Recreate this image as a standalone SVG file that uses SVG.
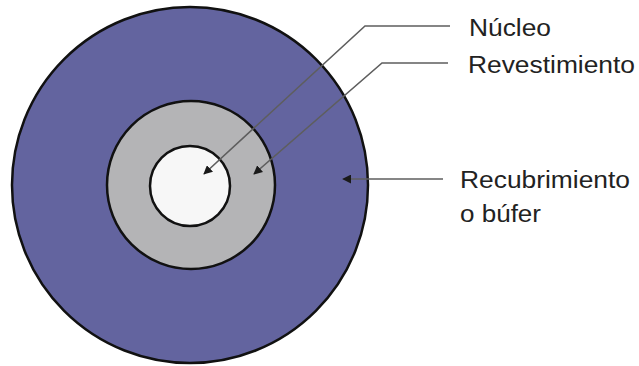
<svg xmlns="http://www.w3.org/2000/svg" width="639" height="366" viewBox="0 0 639 366">
<style>
.ring{stroke:#111;stroke-width:2.5}
.lbl{font-family:"Liberation Sans",Arial,sans-serif;font-size:23px;fill:#222}
.lead{fill:none;stroke:#5e5e5e;stroke-width:1.6;marker-end:url(#ah)}
</style>
<defs>
<marker id="ah" viewBox="0 0 10 10" refX="9" refY="5" markerWidth="9" markerHeight="9" markerUnits="userSpaceOnUse" orient="auto">
<path d="M0,0 L10,5 L0,10 z" fill="#1a1a1a"/>
</marker>
</defs>
<rect width="639" height="366" fill="#ffffff"/>
<g id="recubrimiento"><circle cx="190" cy="185" r="178" fill="#63649f" class="ring"/></g>
<g id="revestimiento"><circle cx="191" cy="185" r="84" fill="#b4b4b6" class="ring"/></g>
<g id="nucleo"><circle cx="190" cy="186" r="40" fill="#f7f7f7" class="ring"/></g>
<g id="connectors">
<polyline class="lead" points="450,26 365,26 204,174"/>
<polyline class="lead" points="448,63 382,63 254,174"/>
<polyline class="lead" points="443,179 343,179"/>
</g>
<g id="labels">
<text class="lbl" x="469" y="36" textLength="82" lengthAdjust="spacingAndGlyphs">Núcleo</text>
<text class="lbl" x="468" y="73" textLength="167" lengthAdjust="spacingAndGlyphs">Revestimiento</text>
<text class="lbl" x="460" y="188" textLength="170" lengthAdjust="spacingAndGlyphs">Recubrimiento</text>
<text class="lbl" x="460" y="222" textLength="81" lengthAdjust="spacingAndGlyphs">o búfer</text>
</g>
</svg>
